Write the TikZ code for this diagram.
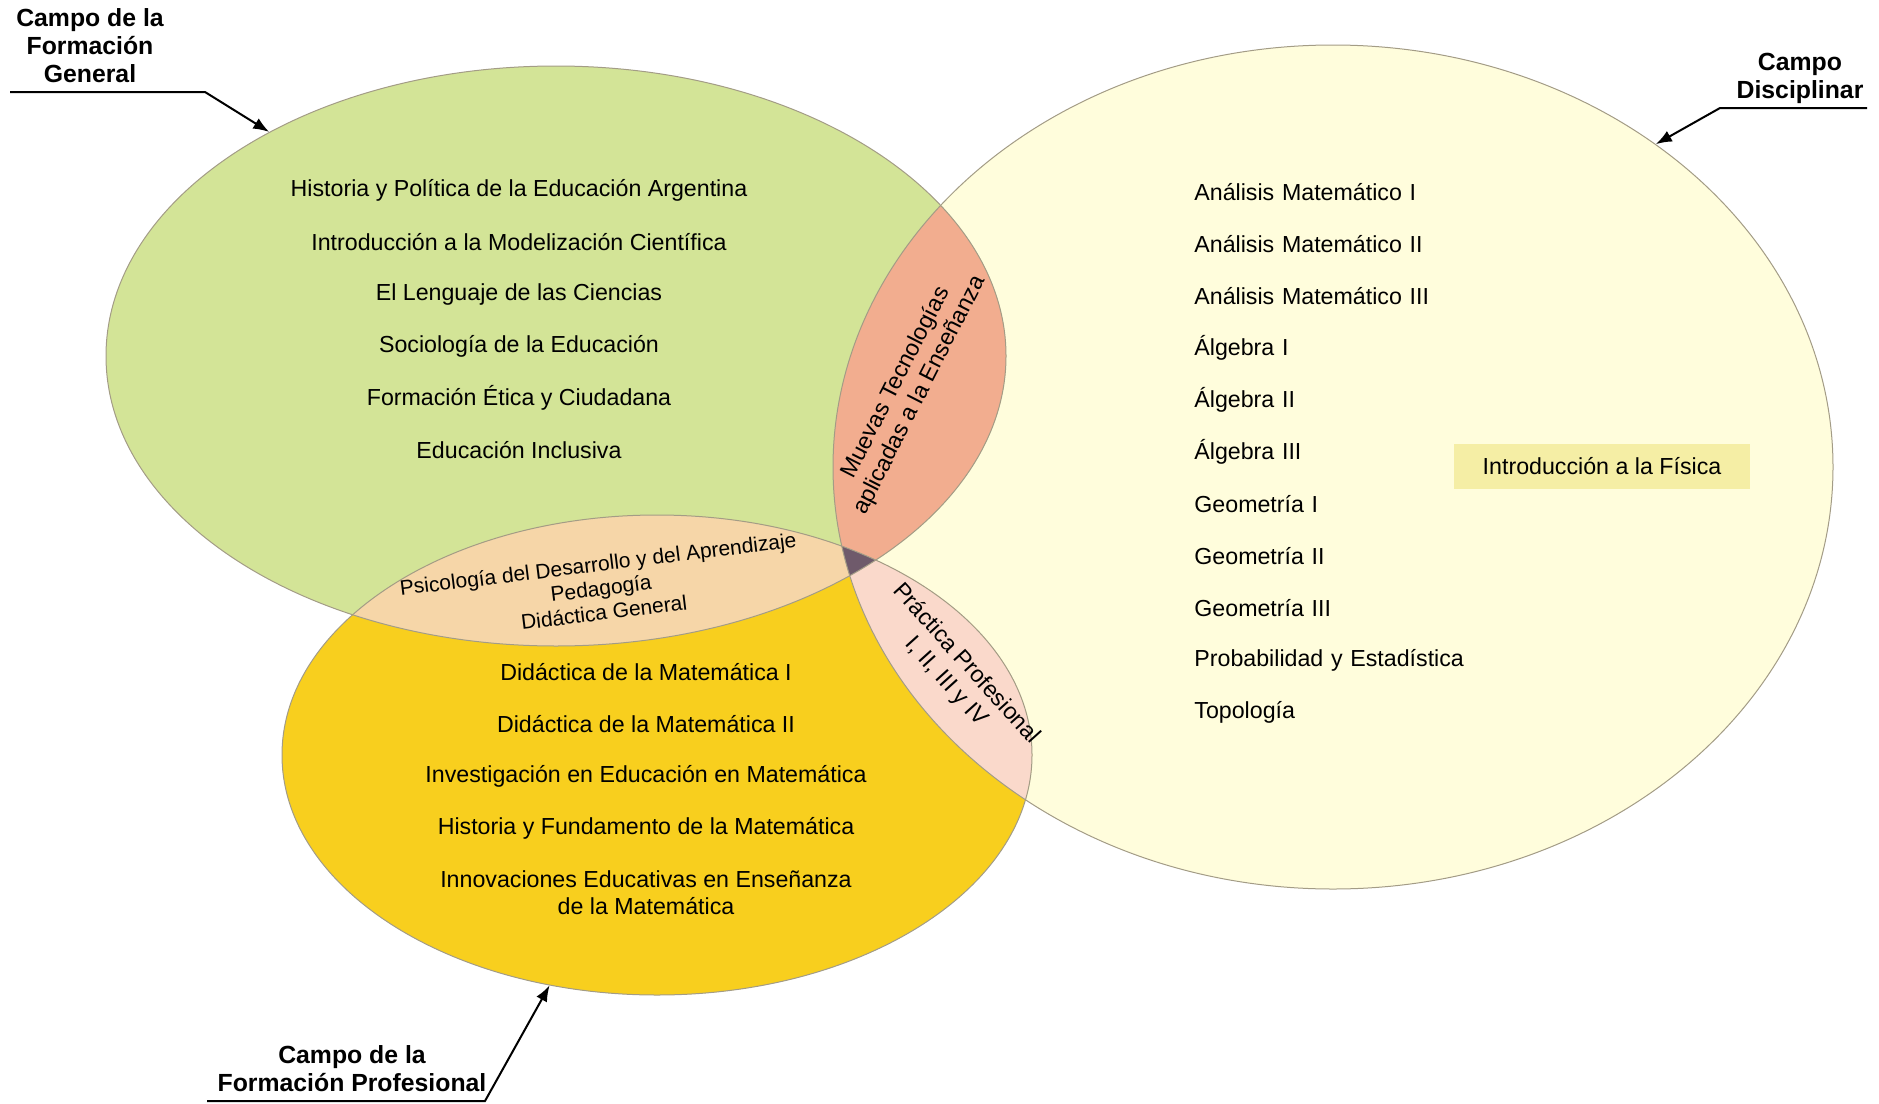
\documentclass[tikz,border=0pt]{standalone}
\usepackage{fontspec}
\setmainfont{Liberation Sans}
\usepackage{xcolor}
\usetikzlibrary{shapes.geometric}
\usetikzlibrary{positioning}
\usetikzlibrary{arrows,arrows.meta,calc}

\definecolor{gencolor}{HTML}{D3E497}
\definecolor{procolor}{HTML}{F8CF1E}
\definecolor{discolor}{HTML}{FFFDDC}
\definecolor{gendis}{HTML}{F2AD8F}
\definecolor{genpro}{HTML}{F6D6A8}
\definecolor{prodis}{HTML}{FAD9CB}
\definecolor{allthree}{HTML}{6F5A6B}
\definecolor{edgecolor}{HTML}{A39C86}
\definecolor{boxcolor}{HTML}{F5EEA5}

\newcommand{\genpath}{(556,-356) ellipse [x radius=225pt, y radius=145pt]}
\newcommand{\propath}{(657,-755) ellipse [x radius=187.5pt, y radius=120pt]}
\newcommand{\dispath}{(1333,-467) ellipse [x radius=250pt, y radius=211pt]}

\begin{document}
\begin{tikzpicture}[x=0.5pt,y=0.5pt,
    item/.style={font=\fontsize{11.6}{13.5}\selectfont,inner sep=0pt},
    lens/.style={item,align=center},
    title/.style={font=\fontsize{12.4}{14}\selectfont\bfseries,align=center,inner sep=0pt},
    pointer/.style={draw,line width=1pt,-{Latex[length=8pt,width=6pt]}},
    field/.style={draw=edgecolor,line width=0.5pt,ellipse,inner sep=0pt},
    node distance=26pt,
]
    \useasboundingbox (0,0) rectangle (1879,-1103);
        % the three fields
        \fill[discolor] \dispath;
        \fill[gencolor] \genpath;
        \fill[procolor] \propath;
        \begin{scope} \clip \genpath; \fill[gendis] \dispath; \end{scope}
        \begin{scope} \clip \genpath; \fill[genpro] \propath; \end{scope}
        \begin{scope} \clip \propath; \fill[prodis] \dispath; \end{scope}
        \begin{scope} \clip \genpath; \clip \propath; \fill[allthree] \dispath; \end{scope}
        \node[field,minimum width=450pt,minimum height=290pt] (gen) at (556,-356) {};
        \node[field,minimum width=375pt,minimum height=240pt] (pro) at (657,-755) {};
        \node[field,minimum width=500pt,minimum height=422pt] (dis) at (1333,-467) {};

        % formacion general
        \node[item] (g1) at (519,-190) {Historia y Política de la Educación Argentina};
        \node[item,below of=g1] (g2) {Introducción a la Modelización Científica};
        \node[item,below of=g2] (g3) {El Lenguaje de las Ciencias};
        \node[item,below of=g3] (g4) {Sociología de la Educación};
        \node[item,below of=g4] (g5) {Formación Ética y Ciudadana};
        \node[item,below of=g5] (g6) {Educación Inclusiva};

        % campo disciplinar
        \node[item,text width=150pt,align=left,anchor=west] (d1) at (1194,-192) {Análisis Matemático I};
        \node[item,text width=150pt,align=left,below of=d1] (d2) {Análisis Matemático II};
        \node[item,text width=150pt,align=left,below of=d2] (d3) {Análisis Matemático III};
        \node[item,text width=150pt,align=left,below of=d3] (d4) {Álgebra I};
        \node[item,text width=150pt,align=left,below of=d4] (d5) {Álgebra II};
        \node[item,text width=150pt,align=left,below of=d5] (d6) {Álgebra III};
        \node[item,text width=150pt,align=left,below of=d6] (d7) {Geometría I};
        \node[item,text width=150pt,align=left,below of=d7] (d8) {Geometría II};
        \node[item,text width=150pt,align=left,below of=d8] (d9) {Geometría III};
        \node[item,text width=150pt,align=left,below of=d9] (d10) {Probabilidad y Estadística};
        \node[item,text width=150pt,align=left,below of=d10] (d11) {Topología};
        \node[item,fill=boxcolor,minimum width=148pt,minimum height=22.5pt] (fis) at (1602,-466) {Introducción a la Física};

        % formacion profesional
        \node[item] (p1) at (646,-672) {Didáctica de la Matemática I};
        \node[item,below of=p1] (p2) {Didáctica de la Matemática II};
        \node[item,below of=p2] (p3) {Investigación en Educación en Matemática};
        \node[item,below of=p3] (p4) {Historia y Fundamento de la Matemática};
        \node[lens,below of=p4,node distance=32.5pt] (p5) {Innovaciones Educativas en Enseñanza\\de la Matemática};

        % shared parts
        \node[lens,rotate=63] (gd) at (908,-389) {Muevas Tecnologías\\aplicadas a la Enseñanza};
        \node[lens,rotate=-48] (pd) at (956,-673) {Práctica Profesional\\I, II, III y IV};
        \node[lens,rotate=7,font=\fontsize{10.5}{12.2}\selectfont] (gp) at (601,-588) {Psicología del Desarrollo y del Aprendizaje\\Pedagogía\\Didáctica General};

        % titles
        \node[title] (tgen) at (90,-46) {Campo de la\\Formación\\General};
        \node[title] (tdis) at (1800,-78) {Campo\\Disciplinar};
        \node[title] (tpro) at (352,-1069) {Campo de la\\Formación Profesional};
        \coordinate (gstart) at (10,-92);
        \coordinate (gbend) at (205,-92);
            \path[pointer] (gstart) -- (gbend) -- (gen.142);
        \coordinate (dstart) at (1867,-108);
        \coordinate (dbend) at (1720,-108);
            \path[pointer] (dstart) -- (dbend) -- (dis.45);
        \coordinate (pstart) at (207,-1101);
        \coordinate (pbend) at (485,-1101);
            \path[pointer] (pstart) -- (pbend) -- (pro.245);
\end{tikzpicture}
\end{document}
